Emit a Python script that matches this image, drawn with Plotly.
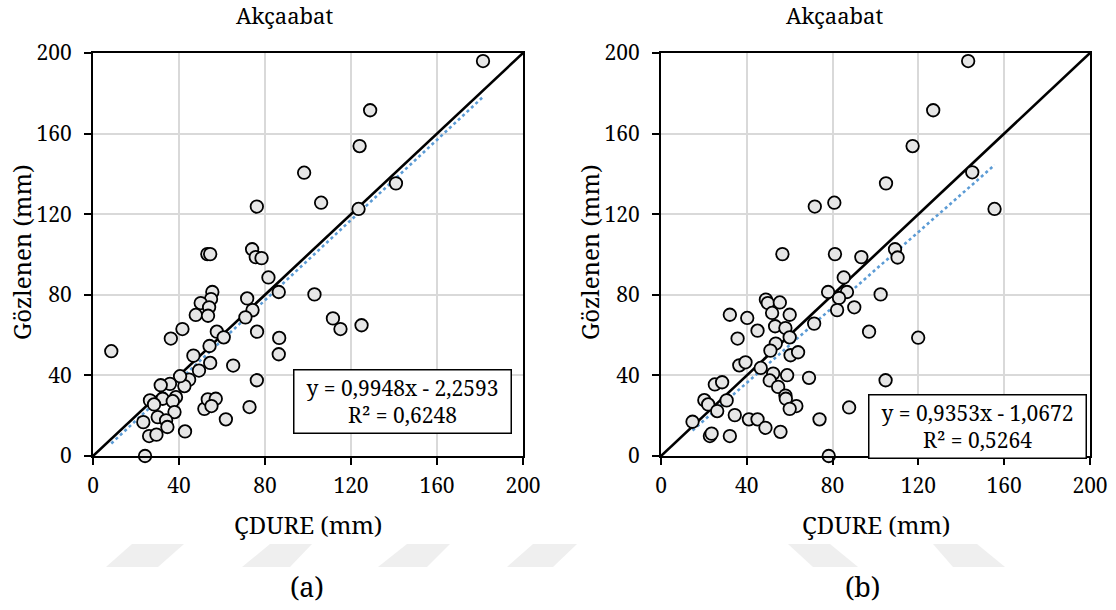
import plotly.graph_objects as go

# ---- data -------------------------------------------------------------
# Panel (a): ÇDURE estimates vs observed
cdure_a = [181.4, 128.9, 124.0, 98.2, 140.9, 106.1, 76.2, 123.5,
           53.2, 54.5, 74.0, 75.7, 78.4, 81.6,
           55.5, 54.9, 50.1, 54.0, 47.8, 53.5,
           103.0, 86.4, 71.7, 74.2, 70.9, 111.6, 115.1, 124.9,
           41.6, 36.2, 57.6, 60.8, 76.3, 86.6, 86.4, 8.5,
           54.2, 46.7, 54.5, 65.2, 49.3,
           44.7, 42.5, 40.5, 35.8, 31.5, 38.6, 32.4, 37.1, 26.5, 28.4,
           37.9, 30.1, 34.0, 34.6, 23.4, 26.1, 29.5, 42.8, 24.2,
           51.8, 53.4, 57.1, 55.1, 61.8, 72.8, 76.2]
obs_a = [196.0, 171.6, 153.8, 140.6, 135.3, 125.7, 123.8, 122.6,
         100.2, 100.2, 102.6, 98.7, 98.2, 88.6,
         81.4, 77.9, 75.9, 73.8, 70.0, 69.6,
         80.2, 81.4, 78.2, 72.4, 68.8, 68.3, 63.0, 64.9,
         63.0, 58.3, 61.7, 58.9, 61.7, 58.6, 50.5, 52.0,
         54.6, 49.8, 46.2, 44.9, 42.4,
         37.9, 34.7, 39.6, 35.8, 35.1, 29.2, 28.4, 27.2, 27.6, 25.6,
         21.8, 19.3, 17.7, 14.4, 16.8, 9.9, 10.6, 12.2, 0.0,
         23.4, 28.1, 28.4, 24.8, 18.2, 24.3, 37.6]

# Panel (b)
cdure_b = [143.2, 126.9, 117.3, 145.1, 104.9, 80.8, 71.7, 155.5,
           56.6, 81.1, 109.1, 110.3, 93.4, 85.2, 77.9, 86.7, 83.0,
           102.4, 82.1, 90.1, 97.0, 119.9, 104.7, 87.7, 73.9, 78.2,
           48.9, 49.8, 55.4, 32.1, 40.2, 51.8, 60.0, 45.0, 53.2, 58.0,
           35.7, 60.0, 71.4, 53.5, 51.0, 60.4, 63.9, 36.5, 39.4, 46.5,
           52.3, 58.8, 69.0, 50.7, 54.6, 58.0, 58.2, 63.1, 60.0,
           25.1, 28.5, 20.2, 22.0, 30.6, 26.2, 34.4, 14.7, 41.0, 45.0,
           48.7, 55.7, 22.8, 23.6, 32.1]
obs_b = [196.0, 171.6, 153.8, 140.8, 135.3, 125.7, 123.8, 122.6,
         100.2, 100.2, 102.6, 98.5, 98.7, 88.6, 81.4, 81.4, 78.4,
         80.2, 72.4, 73.8, 61.7, 58.7, 37.6, 24.1, 18.2, 0.0,
         77.6, 75.9, 76.2, 70.1, 68.5, 71.0, 70.1, 62.2, 64.4, 63.5,
         58.3, 58.9, 65.7, 55.8, 52.3, 50.0, 51.5, 45.0, 46.5, 43.7,
         40.9, 40.1, 38.8, 37.5, 34.3, 30.0, 28.4, 24.8, 23.4,
         35.5, 36.6, 27.7, 25.6, 27.6, 22.3, 20.3, 17.0, 18.2, 18.2,
         14.0, 12.0, 9.9, 11.1, 9.9]

# Linear fits as reported on each panel: (slope, intercept, R²)
fit_a = (0.9948, -2.2593, 0.6248)
fit_b = (0.9353, -1.0672, 0.5264)

axis_ticks = [0, 40, 80, 120, 160, 200]
panel_title = "Akçaabat"
x_title = "ÇDURE (mm)"
y_title = "Gözlenen (mm)"
panel_tags = ["(a)", "(b)"]

# ---- layout helpers -----------------------------------------------------
W, H = 1116, 610
FONT = "Noto Serif"


def px(x):
    return x / W


def py(y):
    return 1 - y / H


def fmt(v, nd=4):
    return f"{abs(v):.{nd}f}".replace(".", ",")


fig = go.Figure()

panels = [
    dict(x=cdure_a, y=obs_a, fit=fit_a, xa="x", ya="y",
         dom=(93, 523), box=(402, 401), title_cx=284, tag_cx=307, ylab_cx=22),
    dict(x=cdure_b, y=obs_b, fit=fit_b, xa="x2", ya="y2",
         dom=(661, 1090), box=(977, 426), title_cx=834, tag_cx=862, ylab_cx=590),
]

y_dom = [py(456), py(53)]

# faint slanted bands behind the lower captions
bands = [
    [(106, 567), (158, 567), (184, 544), (132, 544)],
    [(242, 567), (290, 567), (312, 544), (270, 544)],
    [(378, 567), (427, 567), (450, 544), (407, 544)],
    [(507, 567), (553, 567), (577, 544), (533, 544)],
    [(813, 567), (858, 567), (830, 544), (788, 544)],
    [(953, 567), (1005, 567), (977, 544), (933, 544)],
]
for b in bands:
    path = "M " + " L ".join(f"{px(x):.5f},{py(y):.5f}" for x, y in b) + " Z"
    fig.add_shape(type="path", path=path, xref="paper", yref="paper",
                  fillcolor="#efefef", line=dict(width=0), layer="below")

for i, p in enumerate(panels):
    slope, icpt, r2 = p["fit"]
    xmin, xmax = min(p["x"]), max(p["x"])

    # 1:1 reference line
    fig.add_trace(go.Scatter(x=[0, 200], y=[0, 200], mode="lines",
                             line=dict(color="black", width=2.6),
                             xaxis=p["xa"], yaxis=p["ya"],
                             showlegend=False, hoverinfo="skip"))
    # linear trend
    fig.add_trace(go.Scatter(x=[xmin, xmax],
                             y=[slope * xmin + icpt, slope * xmax + icpt],
                             mode="lines",
                             line=dict(color="#5b9bd5", width=2.6, dash="dot"),
                             xaxis=p["xa"], yaxis=p["ya"],
                             showlegend=False, hoverinfo="skip"))
    # observations
    fig.add_trace(go.Scatter(x=p["x"], y=p["y"], mode="markers",
                             marker=dict(size=12.5, color="#e6e6e6",
                                         line=dict(color="black", width=1.8)),
                             xaxis=p["xa"], yaxis=p["ya"], showlegend=False,
                             cliponaxis=False))

    sign = "-" if icpt < 0 else "+"
    eq = f"y = {fmt(slope)}x {sign} {fmt(icpt)}<br>R² = {fmt(r2)}"
    bx, by = p["box"]
    fig.add_annotation(text=eq, xref="paper", yref="paper",
                       x=px(bx), y=py(by), xanchor="center", yanchor="middle",
                       showarrow=False, align="center",
                       font=dict(family=FONT, size=21, color="black"),
                       bgcolor="white", bordercolor="black", borderwidth=1.5,
                       borderpad=2, width=212, height=58)

    cx = (p["dom"][0] + p["dom"][1]) / 2
    fig.add_annotation(text=panel_title, xref="paper", yref="paper",
                       x=px(p["title_cx"]), y=py(15), xanchor="center",
                       yanchor="middle", showarrow=False,
                       font=dict(family=FONT, size=22, color="black"))
    fig.add_annotation(text=x_title, xref="paper", yref="paper",
                       x=px(cx), y=py(524), xanchor="center", yanchor="middle",
                       showarrow=False,
                       font=dict(family=FONT, size=24, color="black"))
    fig.add_annotation(text=y_title, xref="paper", yref="paper",
                       x=px(p["ylab_cx"]), y=py(252), xanchor="center",
                       yanchor="middle", textangle=-90, showarrow=False,
                       font=dict(family=FONT, size=24, color="black"))
    fig.add_annotation(text=panel_tags[i], xref="paper", yref="paper",
                       x=px(p["tag_cx"]), y=py(586), xanchor="center",
                       yanchor="middle", showarrow=False,
                       font=dict(family=FONT, size=27, color="black"))

axis_common = dict(range=[0, 200], tickvals=axis_ticks, ticks="outside",
                   ticklen=7, tickwidth=1.5, tickcolor="black",
                   showline=True, linecolor="black", linewidth=2, mirror=True,
                   showgrid=True, gridcolor="#d9d9d9", gridwidth=1.5,
                   zeroline=False, fixedrange=True, automargin=False,
                   tickfont=dict(family=FONT, size=21, color="black"))

fig.update_layout(
    width=W, height=H,
    margin=dict(l=0, r=0, t=0, b=0, pad=0, autoexpand=False),
    paper_bgcolor="white", plot_bgcolor="white",
    font=dict(family=FONT, color="black"),
    xaxis=dict(domain=[px(93), px(523)], anchor="y", ticklabelstandoff=3,
               **axis_common),
    yaxis=dict(domain=y_dom, anchor="x", ticklabelstandoff=8, **axis_common),
    xaxis2=dict(domain=[px(661), px(1090)], anchor="y2", ticklabelstandoff=3,
                **axis_common),
    yaxis2=dict(domain=y_dom, anchor="x2", ticklabelstandoff=8, **axis_common),
)

fig.write_html("out.html")
